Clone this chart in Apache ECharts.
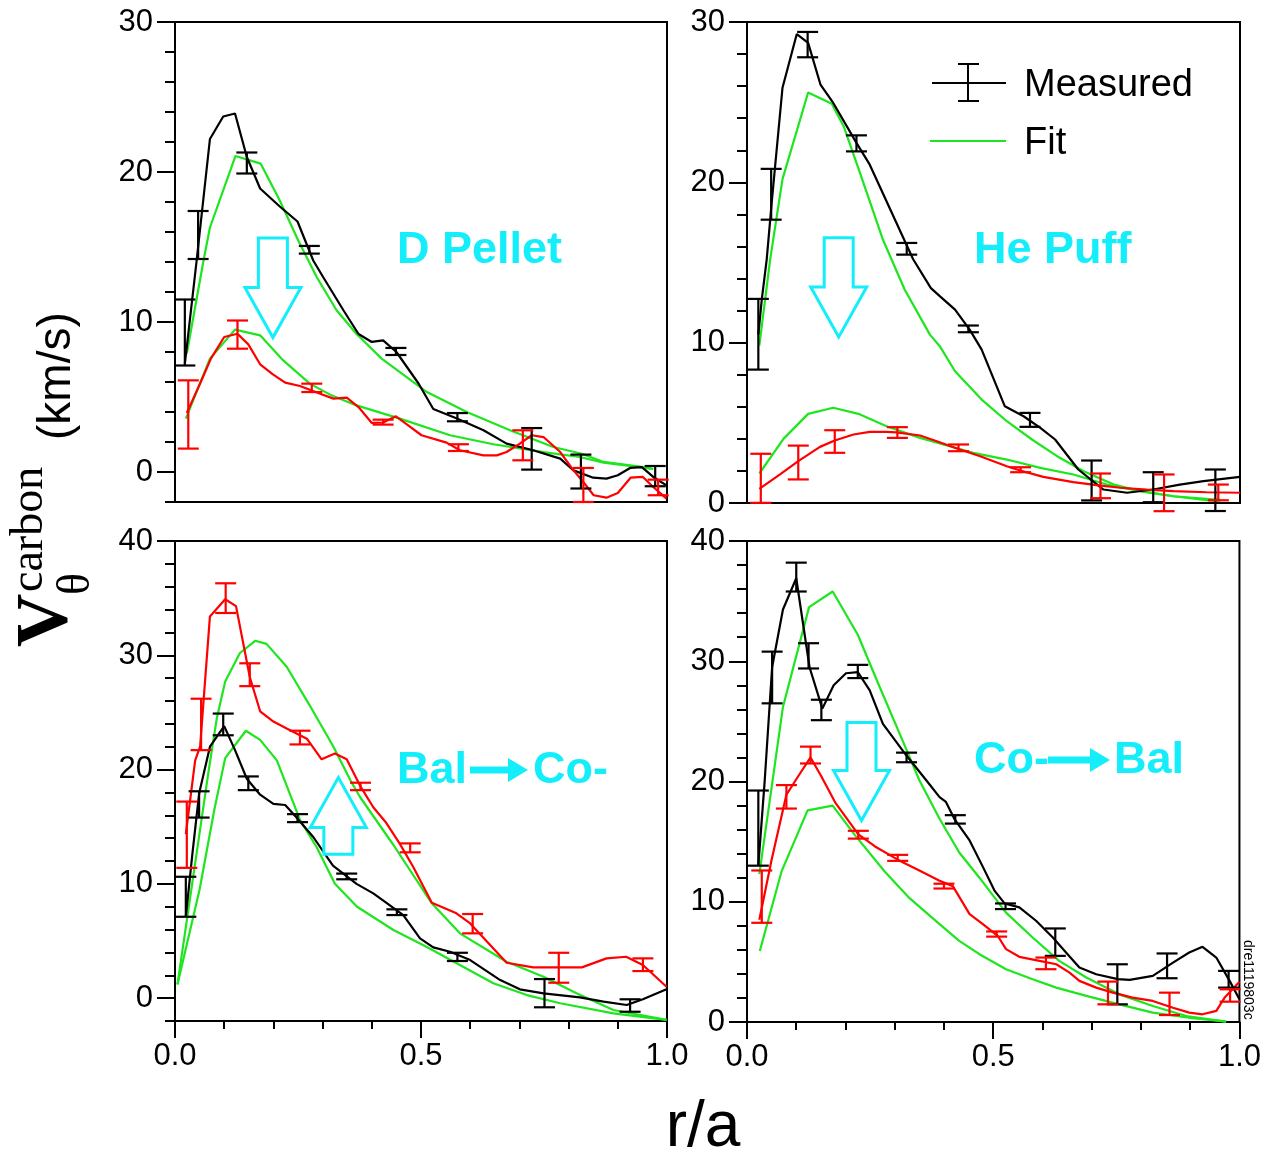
<!DOCTYPE html>
<html>
<head>
<meta charset="utf-8">
<script src="https://cdn.jsdelivr.net/npm/echarts@6/dist/echarts.min.js"></script>
<style>
html,body{margin:0;padding:0;background:#fff}
#chart{width:1264px;height:1152px}
</style>
</head>
<body>
<div id="chart"></div>
<script>
// ---------- D Pellet (upper left) ----------
const pelletPre = [[0.020,7.2],[0.044,14.1],[0.071,22.2],[0.098,23.7],[0.122,23.9],[0.146,21.0],[0.173,18.9],[0.213,17.7],[0.249,16.7],[0.281,14.1],[0.301,13.0],[0.342,10.8],[0.373,9.2],[0.400,8.67],[0.423,8.78],[0.450,8.0],[0.495,5.9],[0.525,4.2],[0.573,3.56],[0.627,2.78],[0.674,1.89],[0.728,1.45],[0.783,0.89],[0.810,0.11],[0.850,-0.38],[0.877,-0.44],[0.900,-0.22],[0.925,0.27],[0.949,0.33],[0.972,-0.33],[0.999,-0.89]];
const pelletPost = [[0.024,3.93],[0.051,5.9],[0.073,7.56],[0.100,9.0],[0.127,9.22],[0.149,8.51],[0.173,7.18],[0.199,6.51],[0.224,5.96],[0.254,5.73],[0.295,5.22],[0.322,4.89],[0.349,4.96],[0.373,4.33],[0.400,3.27],[0.423,3.3],[0.449,3.71],[0.474,3.11],[0.501,2.45],[0.552,1.96],[0.579,1.45],[0.627,1.11],[0.654,1.11],[0.674,1.33],[0.701,1.89],[0.725,2.45],[0.749,2.33],[0.783,1.33],[0.810,0.11],[0.827,-0.55],[0.851,-1.55],[0.877,-1.71],[0.900,-1.4],[0.926,-0.38],[0.951,-0.33],[0.972,-1.0],[0.999,-1.78]];
const pelletFitPre = [[0.024,7.9],[0.058,14.1],[0.071,16.3],[0.123,21.07],[0.174,20.56],[0.213,18.1],[0.251,15.4],[0.288,13.0],[0.328,10.8],[0.369,9.2],[0.420,7.56],[0.512,5.33],[0.593,4.0],[0.681,2.78],[0.769,1.67],[0.827,1.22],[0.871,0.67],[0.952,0.33],[0.972,0.2]];
const pelletFitPost = [[0.022,3.56],[0.071,7.56],[0.122,9.49],[0.173,9.11],[0.220,7.44],[0.274,5.89],[0.318,5.11],[0.369,4.44],[0.457,3.56],[0.559,2.45],[0.647,1.85],[0.749,1.33],[0.823,1.0],[0.871,0.62],[0.945,0.33],[0.972,0.2]];
// error bars: [r/a, low, high]
const pelletErrPre = [[0.020,7.1,11.5],[0.047,14.2,17.4],[0.146,19.9,21.3],[0.273,14.56,15.07],[0.449,7.8,8.27],[0.574,3.38,3.93],[0.725,0.16,2.93],[0.825,-1.1,1.16],[0.976,-0.95,0.4]];
const pelletErrPost = [[0.027,1.56,6.11],[0.127,8.22,10.1],[0.278,5.33,5.89],[0.423,3.16,3.49],[0.576,1.4,1.85],[0.707,0.78,2.78],[0.830,-2.0,0.27],[0.982,-1.55,-0.51]];
// arrow: [r/a, from, to]
const pelletArrow = [[0.199,15.6,8.96]];

// ---------- He Puff (upper right) ----------
const hePre = [[0.023,10.5],[0.030,12.7],[0.040,15.2],[0.050,18.7],[0.072,25.9],[0.101,29.25],[0.124,28.7],[0.149,26.1],[0.175,24.95],[0.222,22.46],[0.249,21.1],[0.337,15.2],[0.373,13.4],[0.391,12.9],[0.422,12.06],[0.452,10.8],[0.476,9.57],[0.523,6.03],[0.561,5.41],[0.595,4.69],[0.625,3.96],[0.672,2.09],[0.723,0.84],[0.771,0.64],[0.824,0.84],[0.878,1.15],[0.926,1.36],[1.0,1.63]];
const hePost = [[0.025,0.88],[0.067,1.78],[0.104,2.61],[0.148,3.5],[0.178,3.9],[0.216,4.27],[0.249,4.44],[0.283,4.44],[0.303,4.41],[0.351,4.21],[0.385,3.85],[0.419,3.48],[0.432,3.34],[0.473,2.92],[0.527,2.29],[0.554,2.03],[0.601,1.63],[0.662,1.3],[0.709,1.11],[0.757,0.95],[0.811,0.84],[0.865,0.74],[0.932,0.67],[1.0,0.64]];
const heFitPre = [[0.025,9.82],[0.047,15.2],[0.072,20.2],[0.124,25.6],[0.172,24.9],[0.196,23.5],[0.229,20.6],[0.276,16.4],[0.320,13.3],[0.371,10.5],[0.391,9.78],[0.422,8.22],[0.476,6.45],[0.527,5.1],[0.578,3.96],[0.629,2.92],[0.683,1.98],[0.744,1.15],[0.798,0.74],[0.865,0.42],[0.932,0.26],[0.960,0.2]];
const heFitPost = [[0.025,1.84],[0.074,4.0],[0.124,5.56],[0.175,5.94],[0.226,5.56],[0.283,4.79],[0.351,4.06],[0.391,3.71],[0.459,3.13],[0.527,2.71],[0.595,2.19],[0.662,1.78],[0.730,1.15],[0.798,0.74],[0.865,0.42],[0.932,0.17],[0.960,0.12]];
const heErrPre = [[0.023,8.32,12.73],[0.049,17.67,20.84],[0.123,27.8,29.38],[0.222,21.93,22.93],[0.324,15.49,16.22],[0.449,10.65,11.07],[0.574,4.75,5.62],[0.699,0.16,2.65],[0.824,0.05,1.92],[0.950,-0.5,2.09]];
const heErrPost = [[0.028,0.01,3.07],[0.104,1.47,3.58],[0.178,3.13,4.54],[0.305,4.06,4.73],[0.429,3.23,3.65],[0.555,1.92,2.23],[0.717,0.3,1.84],[0.846,-0.51,1.78],[0.956,0.17,1.15]];
const heArrow = [[0.186,16.55,10.36]];

// ---------- Bal -> Co- (lower left) ----------
const balPre = [[0.022,7.12],[0.035,12.5],[0.049,17.9],[0.071,22.0],[0.100,23.8],[0.122,21.7],[0.146,19.2],[0.173,17.8],[0.200,17.0],[0.224,16.9],[0.247,15.8],[0.281,14.1],[0.321,11.6],[0.369,10.0],[0.403,9.17],[0.427,8.43],[0.464,7.27],[0.498,5.23],[0.525,4.44],[0.559,4.06],[0.600,3.33],[0.661,1.58],[0.701,0.77],[0.749,0.42],[0.823,0.07],[0.871,-0.31],[0.918,-0.6],[0.951,-0.1],[0.999,0.77]];
const balPost = [[0.022,14.35],[0.041,20.8],[0.051,22.0],[0.071,33.4],[0.102,34.9],[0.124,34.3],[0.152,28.1],[0.173,25.1],[0.200,24.2],[0.227,23.6],[0.268,22.7],[0.298,20.9],[0.325,21.4],[0.349,20.9],[0.376,18.6],[0.403,16.7],[0.430,15.3],[0.457,13.5],[0.484,11.5],[0.522,8.35],[0.572,7.42],[0.600,6.54],[0.674,3.1],[0.728,2.69],[0.783,2.69],[0.827,2.69],[0.877,3.48],[0.917,3.62],[0.951,2.9],[0.999,1.0]];
const balFitPre = [[0.005,1.2],[0.050,9.5],[0.080,16.5],[0.102,21.0],[0.144,23.4],[0.173,22.6],[0.207,20.8],[0.254,15.6],[0.288,13.2],[0.325,10.0],[0.370,8.0],[0.444,5.96],[0.511,4.5],[0.579,2.9],[0.647,1.3],[0.715,0.27],[0.783,-0.45],[0.891,-1.33],[0.999,-1.9]];
const balFitPost = [[0.005,1.2],[0.040,11.5],[0.067,19.5],[0.085,24.5],[0.102,27.7],[0.132,30.2],[0.163,31.27],[0.186,31.0],[0.227,29.0],[0.274,25.6],[0.322,22.0],[0.356,19.1],[0.376,17.6],[0.444,13.4],[0.522,8.3],[0.579,5.67],[0.674,3.18],[0.749,1.87],[0.816,0.42],[0.891,-1.04],[0.999,-1.9]];
const balErrPre = [[0.022,7.12,10.62],[0.049,15.8,18.1],[0.098,23.0,24.9],[0.149,18.2,19.4],[0.249,15.4,16.1],[0.349,10.4,10.9],[0.451,7.27,7.77],[0.574,3.25,3.97],[0.751,-0.8,1.67],[0.925,-1.19,-0.1]];
const balErrPost = [[0.024,11.4,17.2],[0.053,21.7,26.2],[0.103,33.7,36.3],[0.152,27.3,29.3],[0.254,22.2,23.4],[0.377,18.2,18.85],[0.478,12.76,13.54],[0.605,5.67,7.36],[0.780,1.35,3.97],[0.951,2.37,3.48]];
const balArrow = [[0.332,12.6,19.3]];

// ---------- Co- -> Bal (lower right) ----------
const coPre = [[0.023,13.0],[0.036,20.1],[0.051,29.5],[0.073,34.3],[0.100,36.9],[0.127,29.5],[0.153,26.06],[0.176,28.0],[0.201,29.0],[0.225,29.1],[0.249,27.6],[0.276,24.8],[0.323,22.2],[0.364,20.1],[0.391,18.7],[0.404,18.3],[0.421,16.9],[0.452,15.1],[0.479,12.9],[0.503,10.9],[0.523,9.86],[0.553,9.53],[0.587,8.42],[0.621,7.03],[0.651,5.64],[0.675,4.53],[0.709,3.97],[0.753,3.56],[0.777,3.5],[0.824,3.83],[0.865,4.94],[0.898,5.78],[0.925,6.25],[0.953,5.36],[0.980,3.42],[1.0,1.9]];
const coPost = [[0.025,8.5],[0.050,13.5],[0.080,18.9],[0.105,20.5],[0.129,22.0],[0.150,20.5],[0.180,18.2],[0.226,15.6],[0.260,14.6],[0.306,13.5],[0.350,12.6],[0.391,11.75],[0.418,11.3],[0.452,8.97],[0.479,8.14],[0.509,7.17],[0.526,6.06],[0.553,5.42],[0.594,5.08],[0.628,4.8],[0.655,4.11],[0.675,3.42],[0.709,2.86],[0.743,2.44],[0.783,2.03],[0.824,1.75],[0.865,1.19],[0.898,0.78],[0.925,0.64],[0.953,0.92],[0.970,2.03],[0.986,2.72],[1.0,3.35]];
const coFitPre = [[0.025,12.3],[0.052,20.1],[0.073,26.2],[0.126,34.5],[0.174,35.8],[0.225,32.2],[0.269,27.9],[0.316,23.4],[0.350,20.1],[0.391,16.9],[0.431,14.1],[0.472,12.0],[0.526,9.1],[0.580,7.03],[0.634,5.08],[0.689,3.7],[0.756,2.3],[0.824,1.33],[0.892,0.5],[0.973,0.03]];
const coFitPost = [[0.026,5.9],[0.070,12.5],[0.123,17.6],[0.174,18.0],[0.220,15.5],[0.280,12.5],[0.330,10.3],[0.391,8.14],[0.431,6.75],[0.472,5.64],[0.526,4.39],[0.580,3.56],[0.628,2.86],[0.689,2.17],[0.756,1.47],[0.824,0.78],[0.905,0.31],[0.973,0.03]];
const coErrPre = [[0.023,13.0,19.25],[0.051,26.5,30.8],[0.100,35.8,38.2],[0.125,29.4,31.5],[0.151,25.1,26.8],[0.225,28.6,29.7],[0.324,21.6,22.4],[0.423,16.5,17.2],[0.525,9.39,9.86],[0.626,5.5,7.78],[0.752,1.47,4.8],[0.853,3.64,5.7],[0.978,2.86,4.25]];
const coErrPost = [[0.030,8.25,12.6],[0.080,17.75,19.7],[0.129,21.5,22.9],[0.226,15.25,15.9],[0.306,13.4,13.9],[0.400,11.1,11.5],[0.507,7.1,7.53],[0.607,4.39,5.36],[0.733,1.47,3.36],[0.858,0.58,2.44],[0.981,1.69,2.72]];
const coArrow = [[0.2325,24.9,16.75]];

// axis ranges and tick labels
const yRanges = [[-2,30],[0,30],[-2,40],[0,40]];
const yTickValues = [[0,10,20,30],[0,10,20,30],[0,10,20,30,40],[0,10,20,30,40]];

const BLACK = '#000000', RED = '#ff0000', GREEN = '#1ee61e', CYAN = '#14eefb';
const FONT = '"Liberation Sans", Arial, Helvetica, sans-serif';
const SERIF = '"Liberation Serif", "Times New Roman", serif';

const grids = [
  {left:175, top:22, width:492, height:480},
  {left:747, top:22, width:493, height:481},
  {left:175, top:541, width:492, height:480},
  {left:747, top:541, width:493, height:481}
].map(g => Object.assign({show:true, borderColor:BLACK, borderWidth:2, backgroundColor:'transparent'}, g));

const axisLineStyle = {color:BLACK, width:2};

const xAxes = [0,1,2,3].map(i => {
  const bottom = i >= 2;
  return {
    gridIndex:i, type:'value', position:'bottom', min:0, max:1, interval:0.5,
    axisLine:{show:true, onZero:false, lineStyle:axisLineStyle},
    axisTick:{show:bottom, length:17, lineStyle:axisLineStyle},
    minorTick:{show:bottom, splitNumber:5, length:8, lineStyle:axisLineStyle},
    axisLabel:{show:bottom, fontSize:31, fontFamily:FONT, color:BLACK, margin:20,
      formatter: v => v.toFixed(1)},
    splitLine:{show:false}, minorSplitLine:{show:false}
  };
});

// yAxis 0..3: minor ticks every 2 with the axis line; 4..7: major ticks with labels
const yAxes = [];
[0,1,2,3].forEach(i => {
  yAxes.push({
    gridIndex:i, type:'value', position:'left', min:yRanges[i][0], max:yRanges[i][1], interval:2,
    axisLine:{show:true, onZero:false, lineStyle:axisLineStyle},
    axisTick:{show:true, length:10, lineStyle:axisLineStyle},
    axisLabel:{show:false}, splitLine:{show:false}
  });
});
[0,1,2,3].forEach(i => {
  yAxes.push({
    gridIndex:i, type:'value', position:'left', offset:0, min:yRanges[i][0], max:yRanges[i][1],
    axisLine:{show:false, onZero:false},
    axisTick:{show:true, length:18, lineStyle:axisLineStyle, customValues:yTickValues[i]},
    axisLabel:{show:true, fontSize:31, fontFamily:FONT, color:BLACK, margin:22,
      customValues:yTickValues[i]},
    splitLine:{show:false}
  });
});

function lineSeries(data, color, i) {
  return {type:'line', xAxisIndex:i, yAxisIndex:i, data:data, symbol:'none', showSymbol:false,
    lineStyle:{color:color, width:2.2}, itemStyle:{color:color}, silent:true, z:3};
}

function errSeries(data, color, i) {
  return {
    type:'custom', xAxisIndex:i, yAxisIndex:i, data:data, clip:false, silent:true, z:4,
    encode:{x:0, y:[1,2]},
    renderItem: function (params, api) {
      const lo = api.coord([api.value(0), api.value(1)]);
      const hi = api.coord([api.value(0), api.value(2)]);
      const w = 10.5;
      const st = {stroke:color, lineWidth:2.2};
      return {type:'group', children:[
        {type:'line', shape:{x1:lo[0], y1:lo[1], x2:hi[0], y2:hi[1]}, style:st},
        {type:'line', shape:{x1:lo[0]-w, y1:lo[1], x2:lo[0]+w, y2:lo[1]}, style:st},
        {type:'line', shape:{x1:hi[0]-w, y1:hi[1], x2:hi[0]+w, y2:hi[1]}, style:st}
      ]};
    }
  };
}

function arrowSeries(data, i) {
  return {
    type:'custom', xAxisIndex:i, yAxisIndex:i, data:data, clip:false, silent:true, z:5,
    encode:{x:0, y:[1,2]},
    renderItem: function (params, api) {
      const base = api.coord([api.value(0), api.value(1)]);
      const tip = api.coord([api.value(0), api.value(2)]);
      const dir = tip[1] > base[1] ? 1 : -1;
      const sw = 14.5, hw = 28, hl = 50;
      const sy = tip[1] - dir * hl;
      const x = tip[0];
      return {type:'polygon',
        shape:{points:[[x-sw, base[1]],[x-sw, sy],[x-hw, sy],[x, tip[1]],[x+hw, sy],[x+sw, sy],[x+sw, base[1]]]},
        style:{fill:'none', stroke:CYAN, lineWidth:3, lineJoin:'miter'}};
    }
  };
}

const series = [
  lineSeries(pelletFitPre, GREEN, 0), lineSeries(pelletFitPost, GREEN, 0),
  lineSeries(pelletPre, BLACK, 0), lineSeries(pelletPost, RED, 0),
  errSeries(pelletErrPre, BLACK, 0), errSeries(pelletErrPost, RED, 0), arrowSeries(pelletArrow, 0),

  lineSeries(heFitPre, GREEN, 1), lineSeries(heFitPost, GREEN, 1),
  lineSeries(hePre, BLACK, 1), lineSeries(hePost, RED, 1),
  errSeries(heErrPre, BLACK, 1), errSeries(heErrPost, RED, 1), arrowSeries(heArrow, 1),

  lineSeries(balFitPre, GREEN, 2), lineSeries(balFitPost, GREEN, 2),
  lineSeries(balPre, BLACK, 2), lineSeries(balPost, RED, 2),
  errSeries(balErrPre, BLACK, 2), errSeries(balErrPost, RED, 2), arrowSeries(balArrow, 2),

  lineSeries(coFitPre, GREEN, 3), lineSeries(coFitPost, GREEN, 3),
  lineSeries(coPre, BLACK, 3), lineSeries(coPost, RED, 3),
  errSeries(coErrPre, BLACK, 3), errSeries(coErrPost, RED, 3), arrowSeries(coArrow, 3)
];

function label(text, x, y, size, extra) {
  return {type:'text', silent:true, z:10,
    style:Object.assign({text:text, x:x, y:y, fontSize:size, fontFamily:FONT, fill:BLACK,
      align:'left', verticalAlign:'middle'}, extra || {})};
}
function cyanLabel(text, x, y) {
  return label(text, x, y, 45, {fill:CYAN, fontWeight:'bold'});
}
function textArrow(x0, x1, y) {
  return {type:'polygon', silent:true, z:10,
    shape:{points:[[x0, y-3.5],[x1-20, y-3.5],[x1-20, y-12],[x1, y],[x1-20, y+12],[x1-20, y+3.5],[x0, y+3.5]]},
    style:{fill:CYAN}};
}

const graphic = [
  // panel captions
  cyanLabel('D Pellet', 397, 251),
  cyanLabel('He Puff', 974, 251),
  cyanLabel('Bal', 397, 771), textArrow(470, 528, 770), cyanLabel('Co-', 533, 771),
  cyanLabel('Co-', 974, 761), textArrow(1048, 1110, 760), cyanLabel('Bal', 1114, 761),
  // legend
  {type:'line', silent:true, shape:{x1:932, y1:83, x2:1006, y2:83}, style:{stroke:BLACK, lineWidth:2}},
  {type:'line', silent:true, shape:{x1:968, y1:64, x2:968, y2:101}, style:{stroke:BLACK, lineWidth:2}},
  {type:'line', silent:true, shape:{x1:958, y1:64, x2:979, y2:64}, style:{stroke:BLACK, lineWidth:2}},
  {type:'line', silent:true, shape:{x1:958, y1:101, x2:979, y2:101}, style:{stroke:BLACK, lineWidth:2}},
  label('Measured', 1024, 86, 38),
  {type:'line', silent:true, shape:{x1:930, y1:141, x2:1006, y2:141}, style:{stroke:GREEN, lineWidth:2}},
  label('Fit', 1024, 144, 38),
  // x axis title
  label('r/a', 703, 1128, 64, {align:'center'}),
  // y axis title (rotated)
  {type:'group', x:72, y:647, rotation:Math.PI/2, silent:true, children:[
    {type:'text', style:{text:'V', x:0, y:-24, fontSize:74, fontWeight:'bold', fontFamily:SERIF, fill:BLACK, align:'left', verticalAlign:'middle'}},
    {type:'text', style:{text:'carbon', x:55, y:-42, fontSize:46, fontFamily:SERIF, fill:BLACK, align:'left', verticalAlign:'middle'}},
    {type:'text', style:{text:'\u03b8', x:52, y:5, fontSize:46, fontFamily:SERIF, fill:BLACK, align:'left', verticalAlign:'middle'}},
    {type:'text', style:{text:'(km/s)', x:207, y:-15, fontSize:46, fontFamily:FONT, fill:BLACK, align:'left', verticalAlign:'middle'}}
  ]},
  // figure tag
  {type:'group', x:1248, y:940, rotation:-Math.PI/2, silent:true, children:[
    {type:'text', style:{text:'dre1119803c', x:0, y:0, fontSize:14, fontFamily:FONT, fill:BLACK, align:'left', verticalAlign:'middle'}}
  ]}
];

const chart = echarts.init(document.getElementById('chart'), null, {renderer:'canvas'});
chart.setOption({
  backgroundColor:'#ffffff',
  animation:false,
  grid:grids,
  xAxis:xAxes,
  yAxis:yAxes,
  series:series,
  graphic:graphic
});
</script>
</body>
</html>
